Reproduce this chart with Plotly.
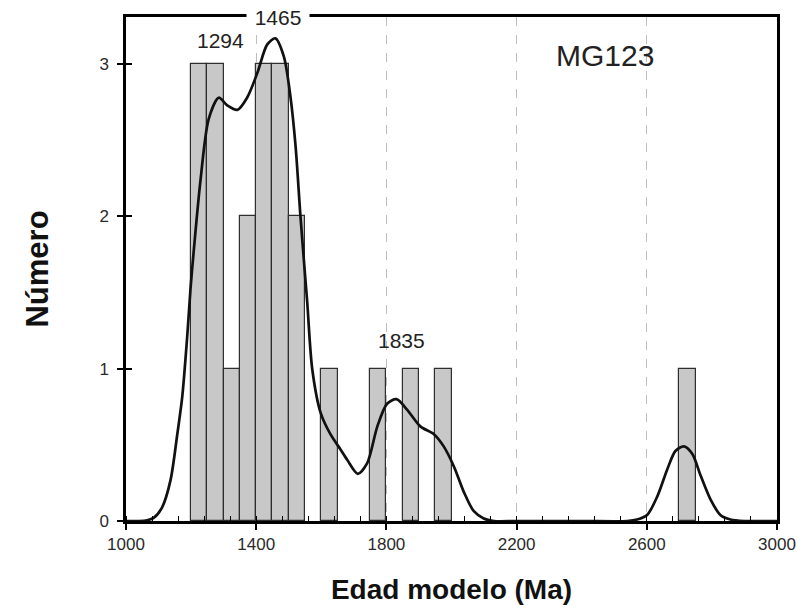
import plotly.graph_objects as go

# Histogram (bin width 50 Ma): bin centres and counts
bin_centers = [1225, 1275, 1325, 1375, 1425, 1475, 1525, 1625, 1775, 1875, 1975, 2725]
bin_counts = [3, 3, 1, 2, 3, 3, 2, 1, 1, 1, 1, 1]
bin_width = 50

# Probability-density curve
curve_x = [1000, 1040, 1065, 1085, 1111, 1137, 1157, 1173, 1188, 1198, 1203, 1229, 1254, 1285,
           1311, 1342, 1372, 1403, 1434, 1459, 1485, 1505, 1521, 1536, 1551, 1557, 1572,
           1598, 1628, 1659, 1680, 1712, 1741, 1772, 1802, 1831, 1864, 1905, 1946, 1976,
           2007, 2038, 2068, 2099, 2130, 2200, 2400, 2540, 2570, 2601, 2632, 2663, 2688,
           2714, 2740, 2765, 2796, 2826, 2857, 2900, 3000]
curve_y = [0, 0, 0.005, 0.02, 0.09, 0.27, 0.56, 0.82, 1.21, 1.52, 1.65, 2.24, 2.64, 2.78,
           2.73, 2.70, 2.78, 2.94, 3.13, 3.17, 3.05, 2.79, 2.46, 2.00, 1.59, 1.43, 1.0,
           0.71, 0.57, 0.47, 0.40, 0.31, 0.38, 0.62, 0.77, 0.80, 0.73, 0.62, 0.57, 0.49,
           0.36, 0.19, 0.066, 0.016, 0, 0, 0, 0, 0.01, 0.04, 0.16, 0.34, 0.46,
           0.49, 0.44, 0.30, 0.14, 0.04, 0.01, 0, 0]

x_ticks = [1000, 1400, 1800, 2200, 2600, 3000]
y_ticks = [0, 1, 2, 3]
x_range = [1000, 3000]
y_range = [0, 3.31]

peak_labels = [("1294", 1290, 3.155), ("1835", 1846, 1.185)]
top_peak = ("1465", 1468)
sample_name = "MG123"

fig = go.Figure()
fig.add_trace(go.Bar(
    x=bin_centers, y=bin_counts, width=[bin_width] * len(bin_centers),
    marker=dict(color="#c8c8c8", line=dict(color="#2e2e2e", width=1.2)),
    hoverinfo="skip", showlegend=False,
))
fig.add_trace(go.Scatter(
    x=curve_x, y=curve_y, mode="lines",
    line=dict(color="#111111", width=2.7, shape="spline", smoothing=0.8),
    hoverinfo="skip", showlegend=False,
))
# invisible trace to realise the overlay axis (inside y ticks)
fig.add_trace(go.Scatter(x=[1000], y=[0], yaxis="y2", mode="markers",
                         marker=dict(opacity=0), showlegend=False, hoverinfo="skip"))

tick_font = dict(family="Liberation Sans, Arial, sans-serif", size=17, color="#2a2a2a")
title_family = "Liberation Sans, Arial, sans-serif"

fig.update_layout(
    width=797, height=607,
    margin=dict(l=126, r=20, t=17, b=86),
    paper_bgcolor="white", plot_bgcolor="white",
    bargap=0,
    xaxis=dict(
        range=x_range, tickvals=x_ticks, ticks="outside", ticklen=6, tickwidth=1.5,
        tickcolor="black", tickfont=tick_font, automargin=False,
        showline=True, linecolor="black", linewidth=2.5, mirror=True,
        showgrid=True, gridcolor="#bdbdbd", gridwidth=1, griddash="dash",
        zeroline=False,
        minor=dict(ticks="inside", dtick=80, tick0=1000, ticklen=5, tickcolor="black",
                   tickwidth=1, showgrid=False),
        title=dict(text="Edad modelo (Ma)", standoff=27,
                   font=dict(family=title_family, size=28, color="#111111", weight="bold")),
    ),
    yaxis=dict(
        range=y_range, tickvals=y_ticks, ticks="outside", ticklen=6, tickwidth=1.5,
        tickcolor="black", tickfont=tick_font, automargin=False, ticklabelstandoff=5,
        showline=True, linecolor="black", linewidth=2.5, mirror=True,
        showgrid=False, zeroline=False,
        title=dict(text="Número", standoff=42,
                   font=dict(family=title_family, size=31, color="#111111", weight="bold")),
    ),
    yaxis2=dict(
        range=y_range, tickvals=y_ticks, overlaying="y", side="left", anchor="x",
        ticks="inside", ticklen=6, tickwidth=1.5, tickcolor="black", automargin=False,
        showticklabels=False, showline=False, showgrid=False, zeroline=False,
    ),
)

ann_font = dict(family="Liberation Sans, Arial, sans-serif", size=21, color="#222222")
for text, xv, yv in peak_labels:
    fig.add_annotation(x=xv, y=yv, xref="x", yref="y", text=text, showarrow=False,
                       font=ann_font)
fig.add_annotation(x=top_peak[1], y=1, xref="x", yref="paper", text=top_peak[0],
                   showarrow=False, font=ann_font, bgcolor="white",
                   width=62, height=22, borderpad=0, yanchor="middle")
fig.add_annotation(x=2473, y=3.06, xref="x", yref="y", text=sample_name, showarrow=False,
                   font=dict(family="Liberation Sans, Arial, sans-serif", size=30,
                             color="#222222"))

fig.write_html("out.html")
